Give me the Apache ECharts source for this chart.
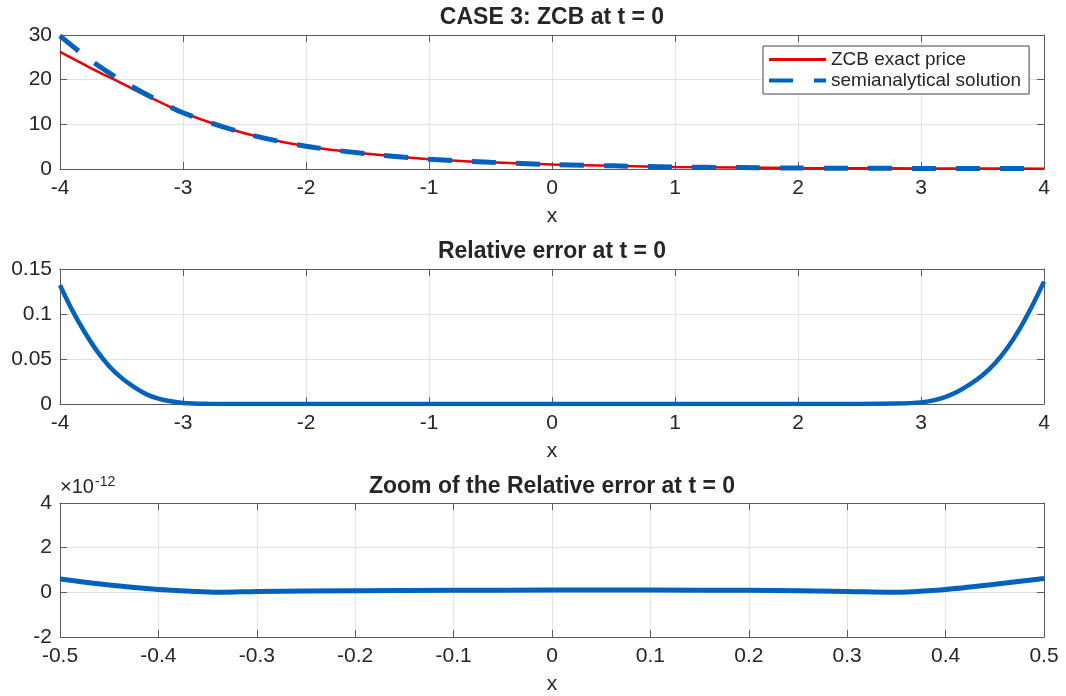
<!DOCTYPE html>
<html>
<head>
<meta charset="UTF-8"/>
<title>CASE 3: ZCB at t = 0</title>
<script src="https://cdn.jsdelivr.net/npm/echarts@6/dist/echarts.min.js"></script>
<style>html,body{margin:0;padding:0;background:#fff;}</style>
</head>
<body>
<div id="main" style="width:1066px;height:696px;"></div>
<script>
// top panel: ZCB price
var priceX = [-4, -3.75, -3.5, -3.25, -3, -2.5, -2, -1.5, -1, -0.5, 0, 0.5, 1, 1.5, 2, 2.5, 3, 3.5, 4];
var exactPrice = [26.2, 22.6, 19.2, 15.8, 12.6, 8.0, 5.1, 3.4, 2.2, 1.5, 1.0, 0.7, 0.45, 0.32, 0.22, 0.17, 0.13, 0.1, 0.08];
var semiX = [-4, -3.75, -3.5, -3.25, -3, -2.5, -2, -1.5, -1, -0.5, 0, 0.5, 1, 1.5, 2, 2.5, 3, 3.5, 4];
var semiPrice = [29.8, 24.3, 19.8, 16.0, 12.6, 8.0, 5.1, 3.4, 2.2, 1.5, 1.0, 0.7, 0.45, 0.32, 0.22, 0.17, 0.13, 0.1, 0.08];

// middle panel: relative error
var relX = [-4, -3.9, -3.8, -3.7, -3.6, -3.5, -3.4, -3.3, -3.2, -3.1, -3, -2.8, -2.5, 0, 2.5, 2.8, 3, 3.1, 3.2, 3.3, 3.4, 3.5, 3.6, 3.7, 3.8, 3.9, 4];
var relErr = [0.132, 0.104, 0.080, 0.059, 0.042, 0.029, 0.019, 0.011, 0.006, 0.003, 0.0012, 0.0003, 0, 0, 0, 0.0005, 0.0018, 0.004, 0.008, 0.014, 0.022, 0.032, 0.045, 0.062, 0.083, 0.108, 0.136];

// bottom panel: zoomed relative error (units of 1e-12)
var zoomX = [-0.5, -0.45, -0.4, -0.36, -0.335, -0.3, -0.2, -0.1, 0, 0.1, 0.2, 0.3, 0.345, 0.4, 0.45, 0.5];
var zoomErr = [0.60, 0.33, 0.13, 0.04, 0.0, 0.04, 0.07, 0.09, 0.10, 0.10, 0.09, 0.04, 0.0, 0.13, 0.36, 0.62];

var FONT = "'Liberation Sans', Arial, sans-serif";
var RED = '#e60000', BLUE = '#0062bd';
var AX = '#5a5a5a', TXT = '#262626', GRID = '#e2e2e2';

function pairs(xs, ys) {
    return xs.map(function (x, i) { return [x, ys[i]]; });
}

var grids = [
    {left: 60, right: 22, top: 35, height: 134},
    {left: 60, right: 22, top: 269, height: 135},
    {left: 60, right: 22, top: 503, height: 135}
];
var xr = [[-4, 4, 1], [-4, 4, 1], [-0.5, 0.5, 0.1]];
var yr = [[0, 30, 10], [0, 0.15, 0.05], [-2, 4, 2]];

var xAxes = [], yAxes = [];
grids.forEach(function (g, i) {
    var tick = {inside: true, length: 7, lineStyle: {color: AX}};
    var line = {onZero: false, lineStyle: {color: AX, width: 1}};
    xAxes.push({
        type: 'value', gridIndex: i, min: xr[i][0], max: xr[i][1], interval: xr[i][2],
        name: 'x', nameLocation: 'middle', nameGap: 37,
        nameTextStyle: {fontFamily: FONT, fontSize: 21, color: TXT},
        axisLine: line, axisTick: tick,
        axisLabel: {fontFamily: FONT, fontSize: 21, color: TXT, margin: 9},
        splitLine: {show: true, lineStyle: {color: GRID}}
    });
    xAxes.push({
        type: 'value', gridIndex: i, position: 'top', min: xr[i][0], max: xr[i][1], interval: xr[i][2],
        axisLine: line, axisTick: tick, axisLabel: {show: false}, splitLine: {show: false}
    });
    yAxes.push({
        type: 'value', gridIndex: i, min: yr[i][0], max: yr[i][1], interval: yr[i][2],
        axisLine: {show: true, onZero: false, lineStyle: {color: AX, width: 1}}, axisTick: {show: true, inside: true, length: 7, lineStyle: {color: AX}},
        axisLabel: {fontFamily: FONT, fontSize: 21, color: TXT, margin: 8},
        splitLine: {show: true, lineStyle: {color: GRID}}
    });
    yAxes.push({
        type: 'value', gridIndex: i, position: 'right', min: yr[i][0], max: yr[i][1], interval: yr[i][2],
        axisLine: {show: true, onZero: false, lineStyle: {color: AX, width: 1}}, axisTick: {show: true, inside: true, length: 7, lineStyle: {color: AX}},
        axisLabel: {show: false}, splitLine: {show: false}
    });
});

var titleStyle = {fontFamily: FONT, fontSize: 23, fontWeight: 'bold', color: TXT};

var option = {
    animation: false,
    backgroundColor: '#fff',
    title: [
        {text: 'CASE 3: ZCB at t = 0', left: 552, top: 6, textAlign: 'center', padding: 0, textStyle: titleStyle},
        {text: 'Relative error at t = 0', left: 552, top: 240, textAlign: 'center', padding: 0, textStyle: titleStyle},
        {text: 'Zoom of the Relative error at t = 0', left: 552, top: 475, textAlign: 'center', padding: 0, textStyle: titleStyle}
    ],
    legend: {
        orient: 'vertical', left: 763, top: 46,
        padding: [4, 8, 4, 6], itemGap: 2, itemWidth: 57, itemHeight: 20,
        backgroundColor: '#fff', borderColor: '#444', borderWidth: 1, borderRadius: 0,
        textStyle: {fontFamily: FONT, fontSize: 19, color: TXT},
        data: [
            {name: 'ZCB exact price', icon: 'path://M0,8.5 L57,8.5 L57,11.5 L0,11.5 Z', itemStyle: {color: RED}},
            {name: 'semianalytical solution', icon: 'path://M0,8 L24,8 L24,12 L0,12 Z M45,8 L57,8 L57,12 L45,12 Z', itemStyle: {color: BLUE}}
        ]
    },
    grid: grids,
    xAxis: xAxes,
    yAxis: yAxes,
    graphic: [
        {type: 'text', left: 60, top: 477, style: {text: '\u00d710', font: '20px ' + FONT, fill: TXT}},
        {type: 'text', left: 95, top: 475, style: {text: '-12', font: '14px ' + FONT, fill: TXT}}
    ],
    series: [
        {
            name: 'ZCB exact price', type: 'line', xAxisIndex: 0, yAxisIndex: 0,
            data: pairs(priceX, exactPrice), showSymbol: false, symbol: 'none',
            smooth: 0.3,
            lineStyle: {color: RED, width: 2.5}, itemStyle: {color: RED}
        },
        {
            name: 'semianalytical solution', type: 'line', xAxisIndex: 0, yAxisIndex: 0,
            data: pairs(semiX, semiPrice), showSymbol: false, symbol: 'none',
            smooth: 0.3,
            lineStyle: {color: BLUE, width: 5, type: [24, 20]}, itemStyle: {color: BLUE}
        },
        {
            name: 'rel', type: 'line', xAxisIndex: 2, yAxisIndex: 2,
            data: pairs(relX, relErr), showSymbol: false, symbol: 'none',
            smooth: 0.3,
            lineStyle: {color: BLUE, width: 4.5}
        },
        {
            name: 'zoom', type: 'line', xAxisIndex: 4, yAxisIndex: 4,
            data: pairs(zoomX, zoomErr), showSymbol: false, symbol: 'none',
            smooth: 0.3,
            lineStyle: {color: BLUE, width: 5}
        }
    ]
};

var chart = echarts.init(document.getElementById('main'), null, {renderer: 'canvas'});
chart.setOption(option);
</script>
</body>
</html>
